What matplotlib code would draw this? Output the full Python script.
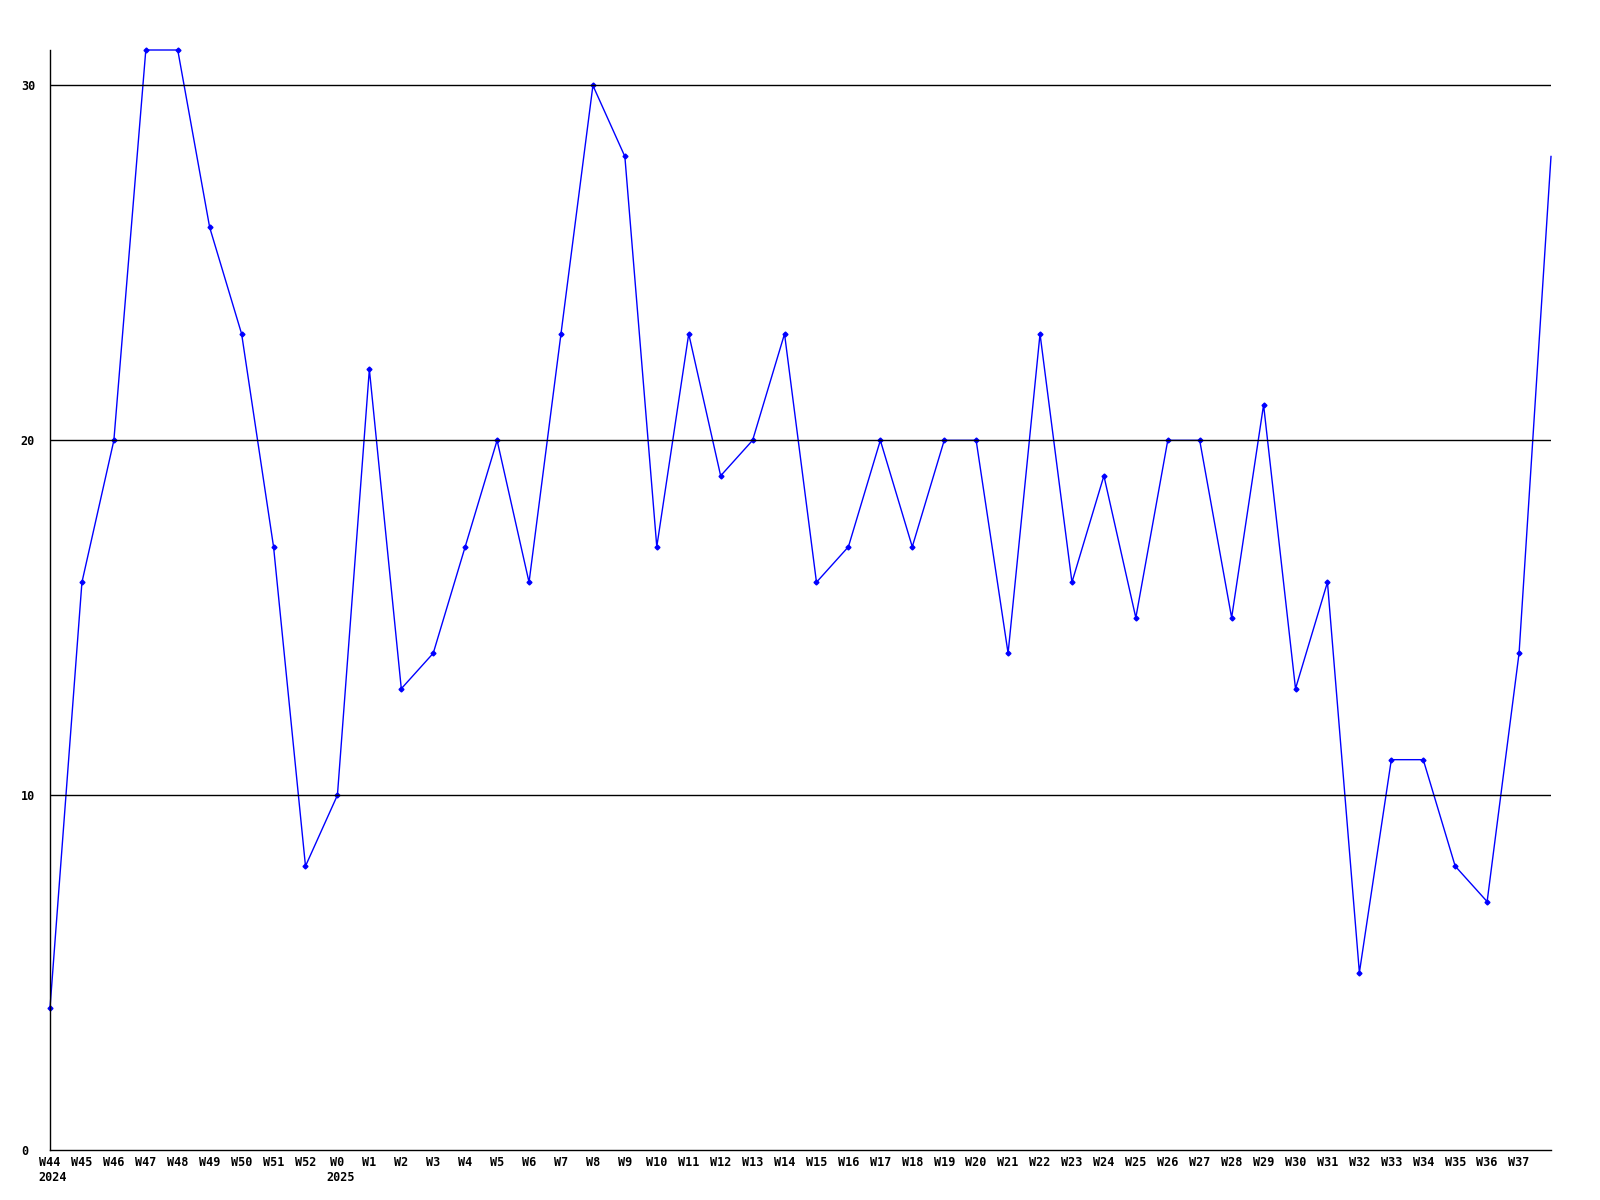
import matplotlib
matplotlib.use("Agg")
import matplotlib.pyplot as plt
import matplotlib.transforms as mtransforms

weeks = ["W44", "W45", "W46", "W47", "W48", "W49", "W50", "W51", "W52",
         "W0", "W1", "W2", "W3", "W4", "W5", "W6", "W7", "W8", "W9",
         "W10", "W11", "W12", "W13", "W14", "W15", "W16", "W17", "W18", "W19",
         "W20", "W21", "W22", "W23", "W24", "W25", "W26", "W27", "W28", "W29",
         "W30", "W31", "W32", "W33", "W34", "W35", "W36", "W37", ""]
years = {0: "2024", 9: "2025"}
values = [4, 16, 20, 31, 31, 26, 23, 17, 8,
          10, 22, 13, 14, 17, 20, 16, 23, 30, 28,
          17, 23, 19, 20, 23, 16, 17, 20, 17, 20,
          20, 14, 23, 16, 19, 15, 20, 20, 15, 21,
          13, 16, 5, 11, 11, 8, 7, 14, 28]
yticks = [0, 10, 20, 30]

font = dict(family="DejaVu Sans Mono", weight="bold", size=8.5)

fig = plt.figure(figsize=(16, 12), dpi=100)
ax = fig.add_axes([50 / 1600, 50 / 1200, 1501 / 1600, 1100 / 1200])

x = list(range(len(values)))
ax.plot(x, values, color="#0000ff", lw=1, marker="D", markersize=2.5,
        markevery=list(range(len(values) - 1)), zorder=2, clip_on=False)

# gridlines sit on top of the series, as in the original
for t in yticks[1:]:
    ax.axhline(t, color="black", lw=1, zorder=3)

ax.set_xlim(0, len(values) - 1)
ax.set_ylim(0, 31)
ax.set_yticks(yticks)
ax.set_yticklabels([str(t) for t in yticks], ha="left", **font)
ax.set_xticks(x)
ax.set_xticklabels(weeks, **font)
ax.tick_params(axis="both", length=0)
ax.tick_params(axis="y", pad=21)
ax.tick_params(axis="x", pad=4)

for s in ["top", "right"]:
    ax.spines[s].set_visible(False)
for s in ["left", "bottom"]:
    ax.spines[s].set_linewidth(1)
    ax.spines[s].set_zorder(4)

trans = mtransforms.blended_transform_factory(ax.transData, ax.transAxes)
for i, yr in years.items():
    ax.annotate(yr, xy=(i, 0), xycoords=trans, xytext=(-11.5, -21),
                textcoords="offset pixels", ha="left", va="top", **font)

fig.savefig("out.png", dpi=100)
